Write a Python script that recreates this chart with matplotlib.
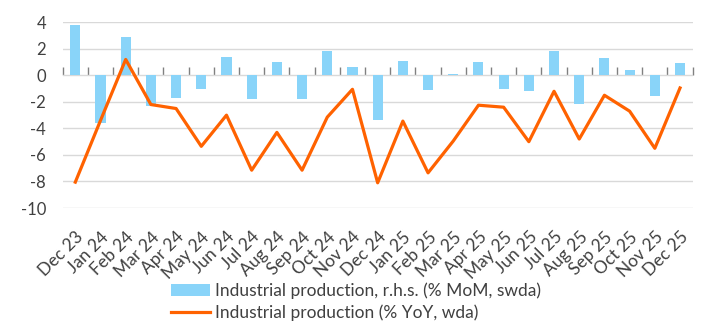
import matplotlib
matplotlib.use("Agg")
import matplotlib.pyplot as plt
import numpy as np

months = ["Dec 23", "Jan 24", "Feb 24", "Mar 24", "Apr 24", "May 24", "Jun 24",
          "Jul 24", "Aug 24", "Sep 24", "Oct 24", "Nov 24", "Dec 24", "Jan 25",
          "Feb 25", "Mar 25", "Apr 25", "May 25", "Jun 25", "Jul 25", "Aug 25",
          "Sep 25", "Oct 25", "Nov 25", "Dec 25"]
mom = [3.8, -3.6, 2.9, -2.3, -1.7, -1.0, 1.4, -1.8, 1.0, -1.8, 1.85, 0.65,
       -3.35, 1.1, -1.1, 0.1, 1.0, -1.0, -1.2, 1.85, -2.15, 1.3, 0.4, -1.55, 0.95]
yoy = [-8.05, -3.4, 1.2, -2.2, -2.5, -5.35, -3.0, -7.15, -4.3, -7.15, -3.15, -1.05,
       -8.1, -3.45, -7.35, -4.95, -2.25, -2.4, -5.0, -1.2, -4.8, -1.5, -2.7, -5.5, -0.95]
yticks = [4, 2, 0, -2, -4, -6, -8, -10]

plt.rcParams['font.family'] = ['Lato', 'DejaVu Sans']
text_color = "#404040"
bar_color = "#89D4F9"
line_color = "#FF6200"

fig = plt.figure(figsize=(7.15, 3.31), dpi=100)
ax = fig.add_axes([0.0877, 0.3716, 0.881, 0.561])

x = np.arange(len(months))
bars = ax.bar(x, mom, width=0.4, color=bar_color, zorder=2,
              label="Industrial production, r.h.s. (% MoM, swda)")
line, = ax.plot(x, yoy, color=line_color, lw=2.3, zorder=3,
                label="Industrial production (% YoY, wda)")

ax.set_xlim(-0.5, len(months) - 0.5)
ax.set_ylim(-10, 4)
ax.set_yticks(yticks)
ax.set_yticklabels([str(v) for v in yticks])
ax.yaxis.grid(True, color="#D9D9D9", lw=1, zorder=0)
ax.set_axisbelow(True)
for s in ax.spines.values():
    s.set_visible(False)
ax.tick_params(axis='y', length=0, pad=12, labelsize=12, colors=text_color)
ax.set_xticks(x)
ax.set_xticklabels(months, rotation=45, ha='right', rotation_mode='anchor')
ax.tick_params(axis='x', length=0, pad=15, labelsize=12.5, colors=text_color)

# zero axis line with boundary ticks
zero_frac = (0 - (-10)) / (4 - (-10))
sec = ax.secondary_xaxis(zero_frac)
sec.set_xticks(np.arange(-0.5, len(months), 1.0))
sec.set_xticklabels([])
sec.tick_params(axis='x', direction='out', length=6, width=1, color="#808080")
sec.spines['bottom'].set_color("#808080")
sec.spines['bottom'].set_linewidth(1.2)
for k in ['top', 'left', 'right']:
    if k in sec.spines:
        sec.spines[k].set_visible(False)

leg = fig.legend(handles=[bars, line], loc='upper center', bbox_to_anchor=(0.498, 0.168), ncol=1,
                 frameon=False, fontsize=12.5, handlelength=2.2, handletextpad=0.3,
                 labelspacing=0.3, borderaxespad=0)
for t in leg.get_texts():
    t.set_color(text_color)

fig.savefig("out.png", dpi=100)
